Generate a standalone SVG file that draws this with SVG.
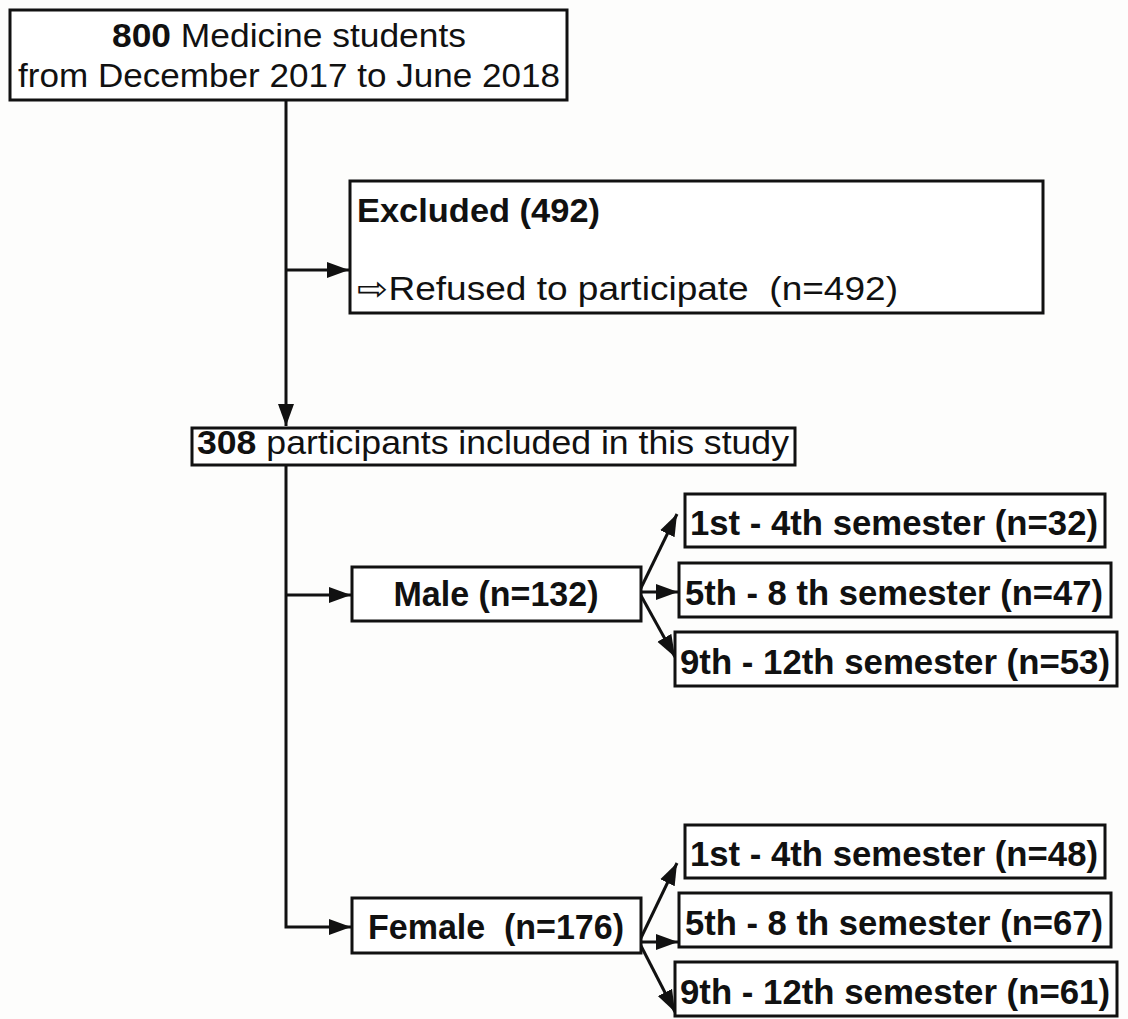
<svg xmlns="http://www.w3.org/2000/svg" width="1128" height="1019" viewBox="0 0 1128 1019">
<style>
.box{fill:#fff;stroke:#111;stroke-width:3}
.t{font-family:"Liberation Sans",Arial,sans-serif;font-size:35px;fill:#111}
.s{font-size:33px}
.m{font-size:34px}
.b{font-weight:bold}
.c{fill:none;stroke:#111;stroke-width:3}
</style>
<defs>
<marker id="ah" markerUnits="userSpaceOnUse" markerWidth="24" markerHeight="18" refX="22" refY="9" orient="auto">
<path d="M0,1 L22,9 L0,17 Z" fill="#111"/>
</marker>
</defs>
<rect width="1128" height="1019" fill="#fdfdfc"/>
<g id="connectors">
<path class="c" d="M286,100 V426" marker-end="url(#ah)"/>
<path class="c" d="M286,270 H349" marker-end="url(#ah)"/>
<path class="c" d="M286,465 V927 H351" marker-end="url(#ah)"/>
<path class="c" d="M286,595 H351" marker-end="url(#ah)"/>
<path class="c" d="M639,592 L677,514" marker-end="url(#ah)"/>
<path class="c" d="M639,592 L678,592" marker-end="url(#ah)"/>
<path class="c" d="M639,592 L675,657" marker-end="url(#ah)"/>
<path class="c" d="M639,942 L677,863" marker-end="url(#ah)"/>
<path class="c" d="M639,942 L678,942" marker-end="url(#ah)"/>
<path class="c" d="M639,942 L675,1012" marker-end="url(#ah)"/>
</g>
<g id="n-start">
<rect class="box" x="10" y="10" width="557" height="90"/>
<text class="t s" x="289" y="47" text-anchor="middle" textLength="354" lengthAdjust="spacingAndGlyphs"><tspan class="b">800</tspan> Medicine students</text>
<text class="t s" x="289" y="87" text-anchor="middle" textLength="542" lengthAdjust="spacingAndGlyphs">from December 2017 to June 2018</text>
</g>
<g id="n-excluded">
<rect class="box" x="350" y="181" width="693" height="132"/>
<text class="t b s" x="357" y="222" textLength="243" lengthAdjust="spacingAndGlyphs">Excluded (492)</text>
<text class="t s" x="357" y="300" textLength="541" lengthAdjust="spacingAndGlyphs">⇨Refused to participate &#160;(n=492)</text>
</g>
<g id="n-included">
<rect class="box" x="192" y="428" width="603" height="37"/>
<text class="t m" x="197" y="454" textLength="592" lengthAdjust="spacingAndGlyphs"><tspan class="b">308</tspan> participants included in this study</text>
</g>
<g id="n-male">
<rect class="box" x="352" y="567" width="289" height="54"/>
<text class="t b" x="496" y="606" text-anchor="middle" textLength="205" lengthAdjust="spacingAndGlyphs">Male (n=132)</text>
</g>
<g id="n-m1">
<rect class="box" x="685" y="494" width="420" height="53"/>
<text class="t b" x="690" y="535" textLength="408" lengthAdjust="spacingAndGlyphs">1st - 4th semester (n=32)</text>
</g>
<g id="n-m2">
<rect class="box" x="679" y="563" width="432" height="54"/>
<text class="t b" x="685" y="605" textLength="418" lengthAdjust="spacingAndGlyphs">5th - 8 th semester (n=47)</text>
</g>
<g id="n-m3">
<rect class="box" x="675" y="632" width="442" height="54"/>
<text class="t b" x="680" y="674" textLength="430" lengthAdjust="spacingAndGlyphs">9th - 12th semester (n=53)</text>
</g>
<g id="n-female">
<rect class="box" x="352" y="898" width="289" height="55"/>
<text class="t b" x="496" y="939" text-anchor="middle" textLength="256" lengthAdjust="spacingAndGlyphs">Female &#160;(n=176)</text>
</g>
<g id="n-f1">
<rect class="box" x="685" y="825" width="420" height="53"/>
<text class="t b" x="690" y="866" textLength="408" lengthAdjust="spacingAndGlyphs">1st - 4th semester (n=48)</text>
</g>
<g id="n-f2">
<rect class="box" x="679" y="893" width="432" height="54"/>
<text class="t b" x="685" y="935" textLength="418" lengthAdjust="spacingAndGlyphs">5th - 8 th semester (n=67)</text>
</g>
<g id="n-f3">
<rect class="box" x="675" y="962" width="442" height="54"/>
<text class="t b" x="680" y="1004" textLength="430" lengthAdjust="spacingAndGlyphs">9th - 12th semester (n=61)</text>
</g>
</svg>
